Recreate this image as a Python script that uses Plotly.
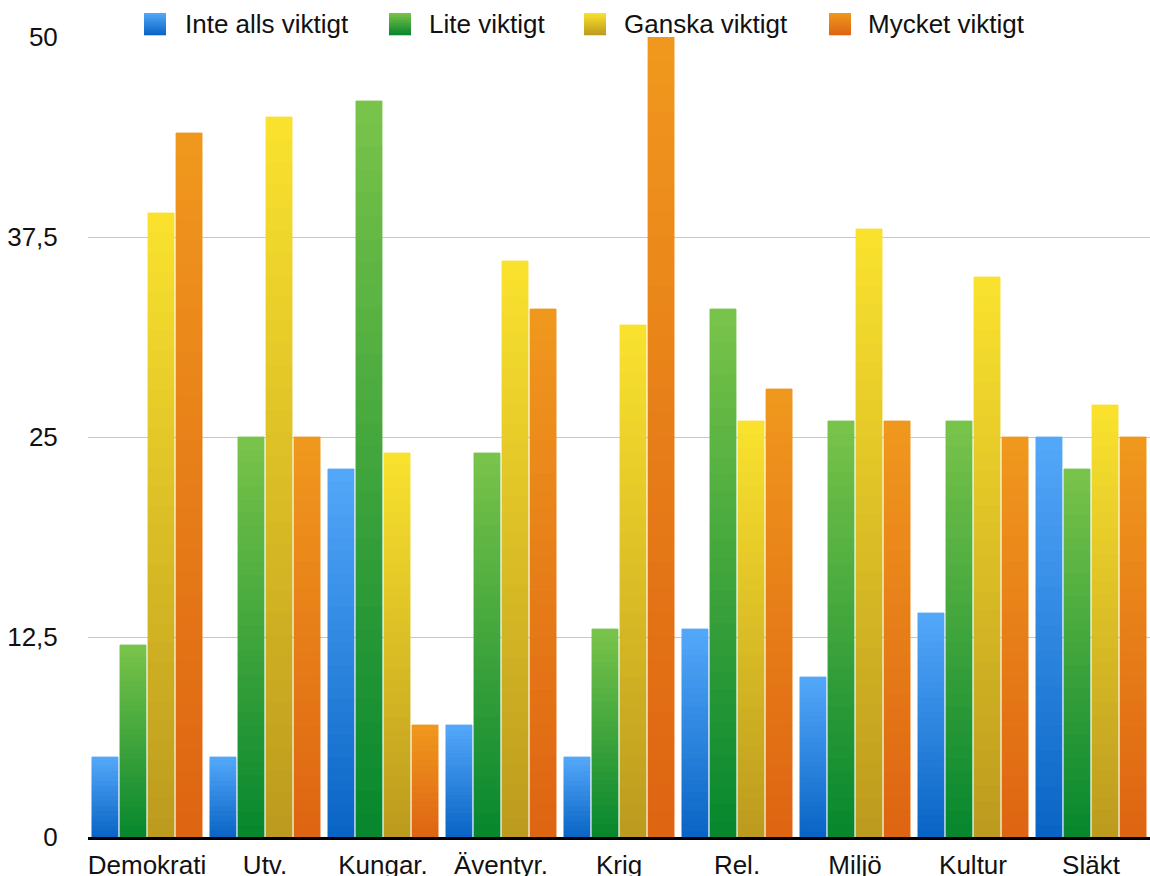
import plotly.graph_objects as go

# --- data -------------------------------------------------------------
categories = ["Demokrati", "Utv.", "Kungar.", "Äventyr.", "Krig",
              "Rel.", "Miljö", "Kultur", "Släkt"]
series_names = ["Inte alls viktigt", "Lite viktigt", "Ganska viktigt", "Mycket viktigt"]
inte_alls_viktigt = [5, 5, 23, 7, 5, 13, 10, 14, 25]
lite_viktigt = [12, 25, 46, 24, 13, 33, 26, 26, 23]
ganska_viktigt = [39, 45, 24, 36, 32, 26, 38, 35, 27]
mycket_viktigt = [44, 25, 7, 33, 50, 28, 26, 25, 25]
y_tickvals = [0, 12.5, 25, 37.5, 50]
y_ticktext = ["0", "12,5", "25", "37,5", "50"]

series_values = [inte_alls_viktigt, lite_viktigt, ganska_viktigt, mycket_viktigt]

# --- style ------------------------------------------------------------
# (top colour, bottom colour) of each series' vertical gradient
gradients = [
    ((84, 168, 250), (8, 100, 196)),
    ((122, 196, 74), (6, 134, 46)),
    ((250, 226, 46), (188, 154, 30)),
    ((240, 152, 30), (222, 100, 18)),
]
FONT = "Liberation Sans, Arial, Helvetica, sans-serif"
W, H = 1150, 876
ML, MR, MT, MB = 88, 0, 37, 39
PW, PH = W - ML - MR, H - MT - MB
N_SLICES = 32


def mix(top, bottom, t):
    """t = 0 -> bottom colour, t = 1 -> top colour."""
    r, g, b = (round(bottom[i] + (top[i] - bottom[i]) * t) for i in range(3))
    return f"rgb({r},{g},{b})"


fig = go.Figure()

# Each bar is built from thin stacked slices so it can carry a
# vertical gradient from its base to its own top.  The slice outline
# uses the slice colour to hide seams between neighbouring slices.
for s, (name, values) in enumerate(zip(series_names, series_values)):
    top, bottom = gradients[s]
    for k in range(N_SLICES):
        c = mix(top, bottom, (k + 0.5) / N_SLICES)
        fig.add_trace(go.Bar(
            x=categories,
            y=[v / N_SLICES for v in values],
            base=[v * k / N_SLICES for v in values],
            offsetgroup=str(s),
            marker=dict(color=c, line=dict(width=0.8, color=c)),
            name=name,
            showlegend=False,
            hoverinfo="skip",
        ))

# --- legend (drawn by hand so the swatches can be large gradients) -----
def px_x(px):
    return (px - ML) / PW


def px_y(py):
    return (H - MB - py) / PH


swatch_left = [144, 389, 584, 829]
label_left = [183, 427, 622, 866]
SW_TOP, SW_SIZE, BANDS = 13, 22, 11
shapes = []
annotations = []
for s, name in enumerate(series_names):
    top, bottom = gradients[s]
    band_h = SW_SIZE / BANDS
    for b in range(BANDS):
        y0 = SW_TOP + b * band_h
        shapes.append(dict(
            type="rect", xref="paper", yref="paper",
            x0=px_x(swatch_left[s]), x1=px_x(swatch_left[s] + SW_SIZE),
            y0=px_y(y0 + band_h + 0.3), y1=px_y(y0),
            fillcolor=mix(top, bottom, 1 - (b + 0.5) / BANDS),
            line=dict(width=0), layer="above",
        ))
    annotations.append(dict(
        text=name, xref="paper", yref="paper",
        x=px_x(label_left[s]), y=px_y(24),
        xanchor="left", yanchor="middle", showarrow=False,
        font=dict(family=FONT, size=26, color="#111111"),
    ))

fig.update_layout(
    width=W, height=H,
    margin=dict(l=ML, r=MR, t=MT, b=MB, pad=0, autoexpand=False),
    paper_bgcolor="white", plot_bgcolor="white",
    barmode="group", bargap=0.05, bargroupgap=0.07,
    showlegend=False,
    shapes=shapes, annotations=annotations,
    font=dict(family=FONT, size=26, color="#111111"),
)
fig.update_xaxes(
    type="category", showgrid=False, zeroline=False, automargin=False,
    showline=True, linecolor="black", linewidth=3,
    ticks="outside", ticklen=3, tickcolor="rgba(0,0,0,0)",
    tickfont=dict(family=FONT, size=26, color="#111111"),
)
fig.update_yaxes(
    range=[0, 50], tickmode="array", tickvals=y_tickvals, ticktext=y_ticktext,
    showgrid=True, gridcolor="#C8C8C8", gridwidth=1, zeroline=False,
    automargin=False,
    showline=False, ticks="outside", ticklen=24, tickcolor="rgba(0,0,0,0)",
    tickfont=dict(family=FONT, size=26, color="#111111"),
)

fig.write_html("out.html")
